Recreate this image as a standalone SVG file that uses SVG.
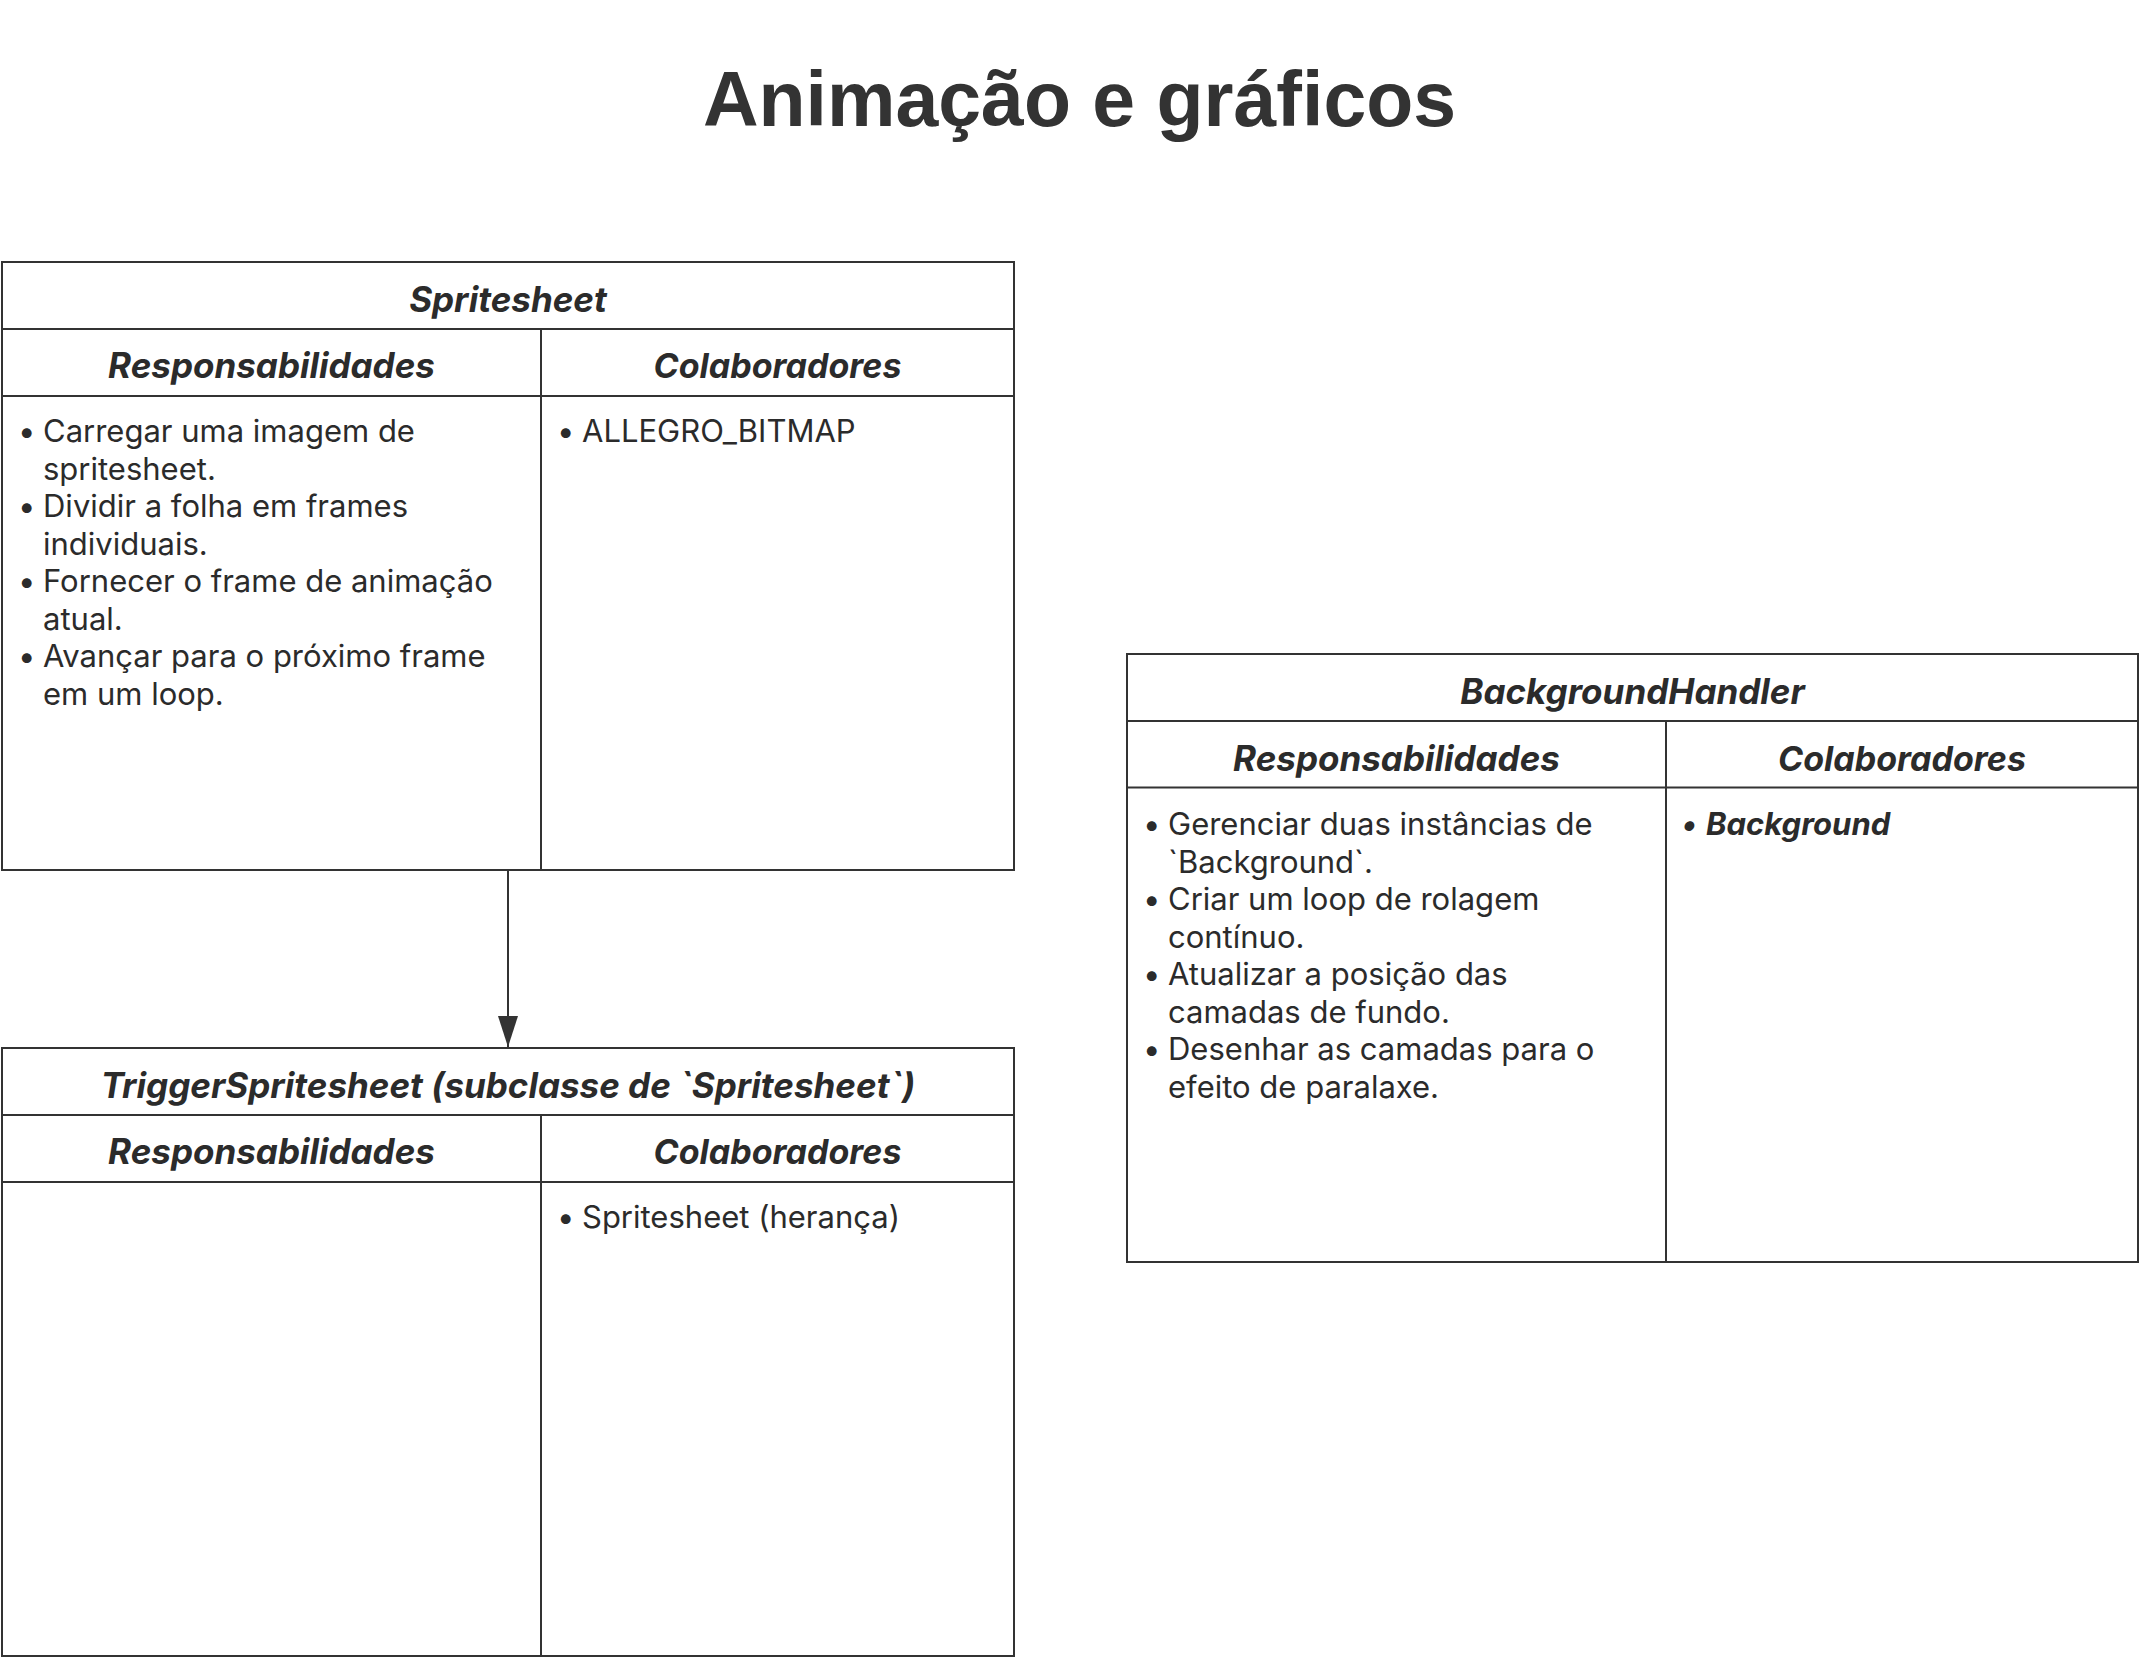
<svg xmlns="http://www.w3.org/2000/svg" width="2139" height="1658" viewBox="0 0 2139 1658">
<defs>
<style>
.box{fill:#ffffff;stroke:#333333;stroke-width:2}
.ln{stroke:#333333;stroke-width:2;fill:none}
.ttl{font-family:Inter,"Noto Sans",sans-serif;font-weight:700;font-style:italic;font-size:35px;fill:#2b2b2b;text-anchor:middle}
.hd{font-family:Inter,"Noto Sans",sans-serif;font-weight:700;font-style:italic;font-size:35px;fill:#2b2b2b;text-anchor:middle}
.hdc{font-size:34px}
.bd{font-family:Inter,"Noto Sans",sans-serif;font-weight:400;font-size:31px;fill:#2b2b2b}
.bdb{font-family:Inter,"Noto Sans",sans-serif;font-weight:700;font-style:italic;font-size:31px;fill:#2b2b2b}
.main{font-family:"Liberation Sans",Arial,sans-serif;font-weight:700;font-size:77px;fill:#333333;text-anchor:middle}
</style>
<marker id="arrow" viewBox="0 0 31 20" refX="31" refY="10" markerWidth="31" markerHeight="20" markerUnits="userSpaceOnUse" orient="auto">
<path d="M0,0 L31,10 L0,20 z" fill="#333333"/>
</marker>
</defs>
<rect x="0" y="0" width="2139" height="1658" fill="#ffffff"/>
<text class="main" x="1079.5" y="126">Animação e gráficos</text>

<g id="connectors">
<line class="ln" x1="508" y1="871" x2="508" y2="1047" marker-end="url(#arrow)"/>
</g>

<g id="spritesheet">
<rect class="box" x="2" y="262" width="1012" height="608"/>
<line class="ln" x1="2" y1="329" x2="1014" y2="329"/>
<line class="ln" x1="2" y1="396" x2="1014" y2="396"/>
<line class="ln" x1="541" y1="329" x2="541" y2="870"/>
<text class="ttl" x="508" y="311.5">Spritesheet</text>
<text class="hd" x="271.5" y="378">Responsabilidades</text>
<text class="hd hdc" x="777.5" y="378">Colaboradores</text>
<text class="bd" x="18" y="442">•</text>
<text class="bd" x="43" y="442">Carregar uma imagem de</text>
<text class="bd" x="43" y="479.5">spritesheet.</text>
<text class="bd" x="18" y="517">•</text>
<text class="bd" x="43" y="517">Dividir a folha em frames</text>
<text class="bd" x="43" y="554.5">individuais.</text>
<text class="bd" x="18" y="592">•</text>
<text class="bd" x="43" y="592">Fornecer o frame de animação</text>
<text class="bd" x="43" y="629.5">atual.</text>
<text class="bd" x="18" y="667">•</text>
<text class="bd" x="43" y="667">Avançar para o próximo frame</text>
<text class="bd" x="43" y="704.5">em um loop.</text>
<text class="bd" x="557" y="442">•</text>
<text class="bd" x="582" y="442">ALLEGRO_BITMAP</text>
</g>

<g id="triggerspritesheet">
<rect class="box" x="2" y="1048" width="1012" height="608"/>
<line class="ln" x1="2" y1="1115" x2="1014" y2="1115"/>
<line class="ln" x1="2" y1="1182" x2="1014" y2="1182"/>
<line class="ln" x1="541" y1="1115" x2="541" y2="1656"/>
<text class="ttl" x="508" y="1097.5">TriggerSpritesheet (subclasse de `Spritesheet`)</text>
<text class="hd" x="271.5" y="1164">Responsabilidades</text>
<text class="hd hdc" x="777.5" y="1164">Colaboradores</text>
<text class="bd" x="557" y="1228">•</text>
<text class="bd" x="582" y="1228">Spritesheet (herança)</text>
</g>

<g id="backgroundhandler">
<rect class="box" x="1127" y="654" width="1011" height="608"/>
<line class="ln" x1="1127" y1="721" x2="2138" y2="721"/>
<line class="ln" x1="1127" y1="787.5" x2="2138" y2="787.5"/>
<line class="ln" x1="1666" y1="721" x2="1666" y2="1262"/>
<text class="ttl" x="1632.5" y="704">BackgroundHandler</text>
<text class="hd" x="1396.5" y="771">Responsabilidades</text>
<text class="hd hdc" x="1902" y="771">Colaboradores</text>
<text class="bd" x="1143" y="835">•</text>
<text class="bd" x="1168" y="835">Gerenciar duas instâncias de</text>
<text class="bd" x="1168" y="872.5">`Background`.</text>
<text class="bd" x="1143" y="910">•</text>
<text class="bd" x="1168" y="910">Criar um loop de rolagem</text>
<text class="bd" x="1168" y="947.5">contínuo.</text>
<text class="bd" x="1143" y="985">•</text>
<text class="bd" x="1168" y="985">Atualizar a posição das</text>
<text class="bd" x="1168" y="1022.5">camadas de fundo.</text>
<text class="bd" x="1143" y="1060">•</text>
<text class="bd" x="1168" y="1060">Desenhar as camadas para o</text>
<text class="bd" x="1168" y="1097.5">efeito de paralaxe.</text>
<text class="bdb" x="1682" y="835">•</text>
<text class="bdb" x="1706" y="835">Background</text>
</g>
</svg>
